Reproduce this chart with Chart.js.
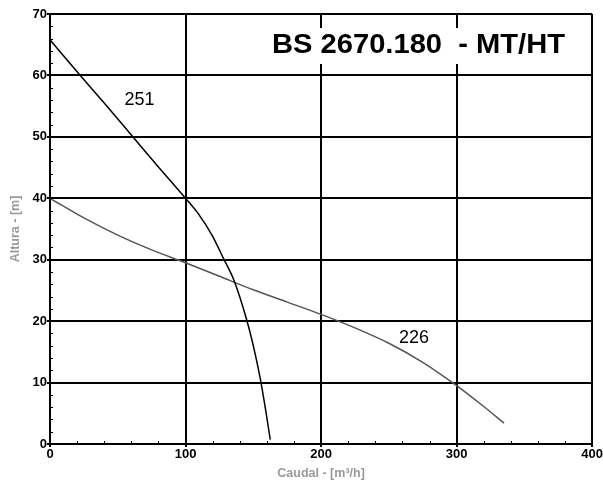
<!DOCTYPE html>
<html>
<head>
<meta charset="utf-8">
<script src="https://cdn.jsdelivr.net/npm/chart.js@4"></script>
<style>
  html, body { margin: 0; padding: 0; background: #fff; }
</style>
</head>
<body>
<canvas id="pumpChart" width="603" height="481"></canvas>
<script>
'use strict'

// curve 251 (black)
const flow251 = [0, 20, 40, 60, 80, 100, 110, 120, 128, 136, 145, 150, 155, 160, 162.5];
const head251 = [65.8, 60.6, 55.5, 50.3, 45.1, 40, 37.3, 33.8, 30.2, 26.5, 20.3, 16.0, 10.8, 4.3, 0.7];

// curve 226 (grey)
const flow226 = [0, 25, 50, 75, 100, 125, 150, 175, 200, 225, 250, 275, 300, 320, 335];
const head226 = [40, 36.8, 34, 31.6, 29.5, 27.3, 25.1, 23.1, 21.1, 18.9, 16.4, 13.3, 9.5, 6.1, 3.4];

const curveLabels = [
  { text: '251', x: 66, y: 56 },
  { text: '226', x: 268.6, y: 17.3 }
];
const chartTitle = 'BS 2670.180  - MT/HT';

const tickFont = { family: 'Arial', size: 13, weight: 'bold' };
const titleFont = { family: 'Arial', size: 12.5, weight: 'bold' };

const toPoints = (xs, ys) => xs.map((x, i) => ({ x: x, y: ys[i] }));

// small inner ticks, curve labels and the boxed title
const decorations = {
  id: 'decorations',
  afterDraw(chart) {
    const ctx = chart.ctx;
    const xs = chart.scales.x;
    const ys = chart.scales.y;
    const area = chart.chartArea;
    ctx.save();
    ctx.strokeStyle = '#000';
    ctx.lineWidth = 1;
    for (let v = 0; v <= 400; v += 20) {
      const px = Math.round(xs.getPixelForValue(v)) + 0.5;
      ctx.beginPath();
      ctx.moveTo(px, area.bottom);
      ctx.lineTo(px, area.bottom - 3);
      ctx.stroke();
    }
    for (let v = 0; v <= 70; v += 2) {
      const py = Math.round(ys.getPixelForValue(v)) + 0.5;
      ctx.beginPath();
      ctx.moveTo(area.left, py);
      ctx.lineTo(area.left + 3, py);
      ctx.stroke();
    }

    ctx.fillStyle = '#000';
    ctx.font = '18px Arial';
    ctx.textAlign = 'center';
    ctx.textBaseline = 'middle';
    curveLabels.forEach(l => {
      ctx.fillText(l.text, xs.getPixelForValue(l.x), ys.getPixelForValue(l.y));
    });

    // title: white box over the grid
    ctx.font = 'bold 27px Arial';
    const w = ctx.measureText(chartTitle).width;
    const target = 293;
    const cx = 418.5;
    ctx.fillStyle = '#fff';
    ctx.fillRect(cx - target / 2 - 10, 28, target + 20, 36);
    ctx.translate(cx, 46);
    ctx.scale(target / w, 1);
    ctx.fillStyle = '#000';
    ctx.textBaseline = 'middle';
    ctx.fillText(chartTitle, 0, 0);
    ctx.restore();
  }
};

new Chart(document.getElementById('pumpChart'), {
  type: 'line',
  data: {
    datasets: [{
      label: '251',
      data: toPoints(flow251, head251),
      borderColor: '#000',
      borderWidth: 1.5,
      pointRadius: 0,
      cubicInterpolationMode: 'monotone',
      fill: false
    }, {
      label: '226',
      data: toPoints(flow226, head226),
      borderColor: '#555',
      borderWidth: 1.5,
      pointRadius: 0,
      cubicInterpolationMode: 'monotone',
      fill: false
    }]
  },
  options: {
    responsive: false,
    animation: false,
    layout: { padding: { top: 14, right: 9, left: 0, bottom: 0 } },
    plugins: {
      legend: { display: false },
      tooltip: { enabled: false }
    },
    scales: {
      x: {
        type: 'linear',
        min: 0,
        max: 400,
        afterFit: s => { s.height = 37; },
        ticks: {
          stepSize: 20,
          autoSkip: false,
          maxRotation: 0,
          padding: 0,
          color: '#000',
          font: tickFont,
          callback: v => (v % 100 === 0 ? v : '')
        },
        grid: {
          color: c => (c.tick && c.tick.value % 100 === 0 ? '#000' : 'rgba(0,0,0,0)'),
          tickColor: c => (c.tick && c.tick.value % 100 === 0 ? '#000' : 'rgba(0,0,0,0)'),
          lineWidth: 2,
          tickLength: 3
        },
        border: { color: '#000', width: 2 },
        title: {
          display: true,
          text: 'Caudal - [m³/h]',
          color: '#999',
          font: titleFont,
          padding: { top: 0, bottom: 0 }
        }
      },
      y: {
        min: 0,
        max: 70,
        afterFit: s => { s.width = 50; },
        ticks: {
          stepSize: 2,
          autoSkip: false,
          padding: 0,
          color: '#000',
          font: tickFont,
          callback: v => (v % 10 === 0 ? v : '')
        },
        grid: {
          color: c => (c.tick && c.tick.value % 10 === 0 ? '#000' : 'rgba(0,0,0,0)'),
          tickColor: c => (c.tick && c.tick.value % 10 === 0 ? '#000' : 'rgba(0,0,0,0)'),
          lineWidth: 2,
          tickLength: 3
        },
        border: { color: '#000', width: 2 },
        title: {
          display: true,
          text: 'Altura - [m]',
          color: '#999',
          font: titleFont,
          padding: { top: 8, bottom: 0 }
        }
      }
    }
  },
  plugins: [decorations]
});
</script>
</body>
</html>
